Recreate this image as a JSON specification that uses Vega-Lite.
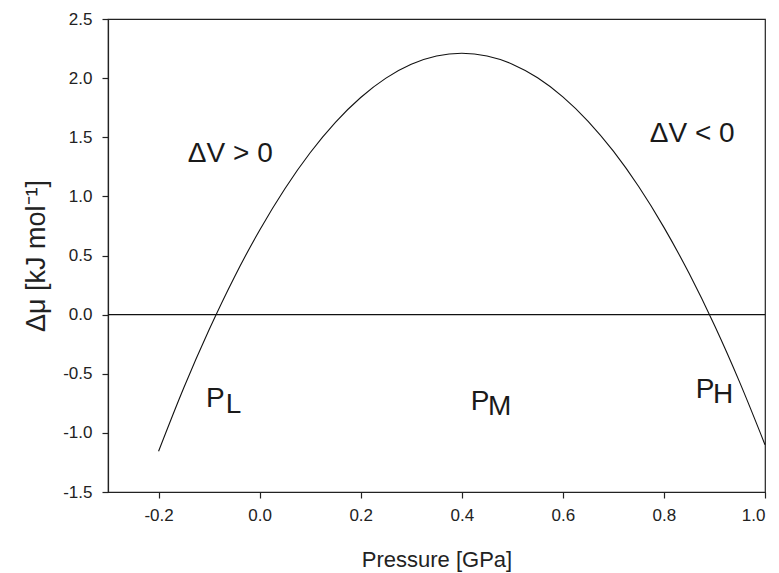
{
  "$schema": "https://vega.github.io/schema/vega-lite/v6.json",
  "width": 657,
  "height": 473,
  "autosize": {"type": "none"},
  "padding": {"left": 108, "top": 19, "right": 14, "bottom": 81},
  "background": "white",
  "config": {
    "font": "Liberation Sans",
    "view": {"stroke": "#222", "strokeWidth": 1.2},
    "axis": {
      "grid": false,
      "domainColor": "#222",
      "domainWidth": 1.2,
      "tickColor": "#222",
      "tickSize": 6,
      "tickWidth": 1.2,
      "labelFont": "Liberation Sans",
      "labelFontSize": 17,
      "labelColor": "#222",
      "titleFont": "Liberation Sans",
      "titleFontSize": 22,
      "titleFontWeight": "normal",
      "titleColor": "#222"
    }
  },
  "datasets": {
    "curve": [
      {"p": -0.2, "dmu": -1.156},
      {"p": -0.15, "dmu": -0.618},
      {"p": -0.1, "dmu": -0.128},
      {"p": -0.05, "dmu": 0.317},
      {"p": 0.0, "dmu": 0.714},
      {"p": 0.05, "dmu": 1.065},
      {"p": 0.1, "dmu": 1.369},
      {"p": 0.15, "dmu": 1.626},
      {"p": 0.2, "dmu": 1.836},
      {"p": 0.25, "dmu": 2.0},
      {"p": 0.3, "dmu": 2.117},
      {"p": 0.35, "dmu": 2.187},
      {"p": 0.4, "dmu": 2.21},
      {"p": 0.45, "dmu": 2.187},
      {"p": 0.5, "dmu": 2.118},
      {"p": 0.55, "dmu": 2.003},
      {"p": 0.6, "dmu": 1.842},
      {"p": 0.65, "dmu": 1.635},
      {"p": 0.7, "dmu": 1.382},
      {"p": 0.75, "dmu": 1.083},
      {"p": 0.8, "dmu": 0.738},
      {"p": 0.85, "dmu": 0.347},
      {"p": 0.9, "dmu": -0.09},
      {"p": 0.95, "dmu": -0.573},
      {"p": 1.0, "dmu": -1.1}
    ],
    "labels": [
      {"p": -0.142, "dmu": 1.29, "t": "ΔV > 0"},
      {"p": 0.772, "dmu": 1.46, "t": "ΔV < 0"},
      {"p": -0.106, "dmu": -0.781, "t": "P"},
      {"p": -0.067, "dmu": -0.832, "t": "L"},
      {"p": 0.418, "dmu": -0.81, "t": "P"},
      {"p": 0.452, "dmu": -0.85, "t": "M"},
      {"p": 0.863, "dmu": -0.705, "t": "P"},
      {"p": 0.897, "dmu": -0.747, "t": "H"}
    ]
  },
  "layer": [
    {
      "data": {"name": "curve"},
      "mark": {"type": "line", "color": "#111", "strokeWidth": 1.1, "interpolate": "monotone"},
      "encoding": {
        "x": {
          "field": "p", "type": "quantitative",
          "scale": {"domain": [-0.3, 1.0], "nice": false, "zero": false},
          "axis": {"values": [-0.2, 0, 0.2, 0.4, 0.6, 0.8, 1.0], "labelExpr": "replace(format(datum.value, '.1f'), '\u2212', '-')", "labelPadding": 9, "titlePadding": 26},
          "title": "Pressure [GPa]"
        },
        "y": {
          "field": "dmu", "type": "quantitative",
          "scale": {"domain": [-1.5, 2.5], "nice": false, "zero": false},
          "axis": {"values": [-1.5, -1, -0.5, 0, 0.5, 1, 1.5, 2, 2.5], "labelExpr": "replace(format(datum.value, '.1f'), '\u2212', '-')", "labelPadding": 10, "titlePadding": 12, "titleFontSize": 27},
          "title": "Δμ [kJ mol⁻¹]"
        }
      }
    },
    {
      "data": {"values": [{"z": 0}]},
      "mark": {"type": "rule", "color": "#111", "strokeWidth": 1.1},
      "encoding": {"y": {"field": "z", "type": "quantitative"}}
    },
    {
      "data": {"name": "labels"},
      "mark": {"type": "text", "align": "left", "baseline": "alphabetic", "fontSize": 28, "color": "#1a1a1a", "font": "Liberation Sans"},
      "encoding": {
        "x": {"field": "p", "type": "quantitative"},
        "y": {"field": "dmu", "type": "quantitative"},
        "text": {"field": "t"}
      }
    }
  ]
}
